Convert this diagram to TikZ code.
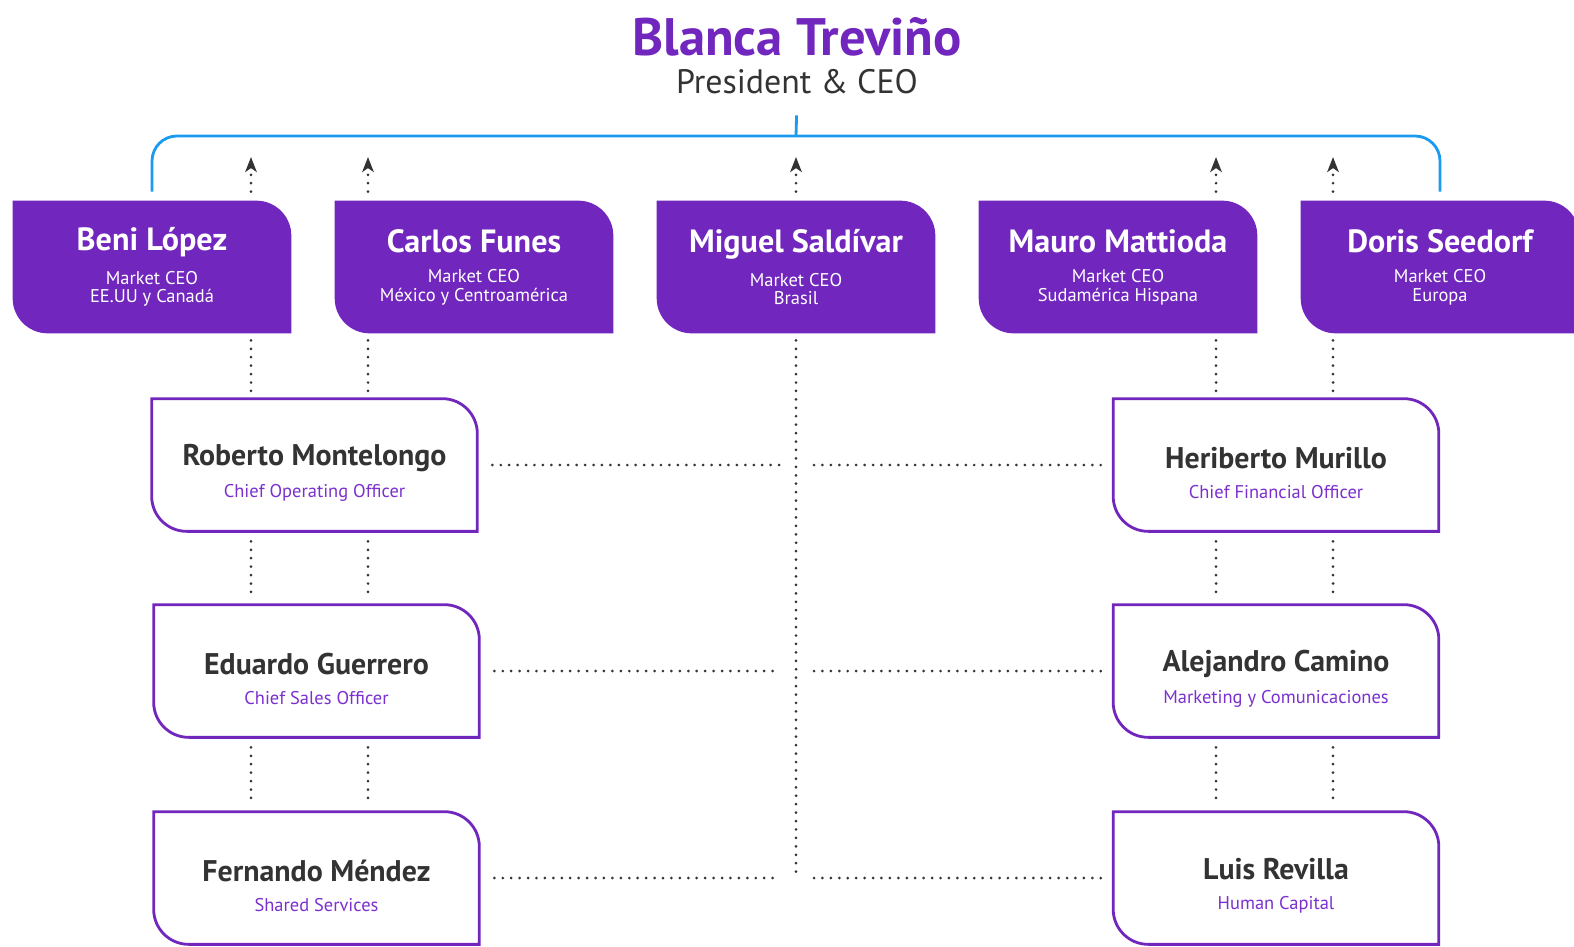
\documentclass[tikz,border=0pt]{standalone}
\usepackage{fontspec}
\setmainfont{PT Sans}
\usepackage{xcolor}
\usetikzlibrary{arrows.meta, positioning, backgrounds}
\definecolor{brandpurple}{HTML}{7126BD}
\definecolor{rolepurple}{HTML}{7B30D0}
\definecolor{railblue}{HTML}{1A9BF0}
\definecolor{inkgray}{HTML}{333333}
\tikzset{
    market/.style={rectangle, minimum width=5.56cm, minimum height=2.64cm, inner sep=0pt, align=center, text=white, font=\fontsize{10.5}{10.4}\selectfont},
    staff/.style={rectangle, minimum width=6.5cm, minimum height=2.64cm, inner sep=0pt, align=center, text=rolepurple, font=\fontsize{10.5}{11}\selectfont},
    dots/.style={draw=inkgray, line width=1.7pt, line cap=round, dash pattern=on 0pt off 4.8pt},
    uparrow/.style={dots, -{Stealth[length=8.5pt, width=6.5pt, inset=2.2pt]}},
    rail/.style={draw=railblue, line width=1.6pt, rounded corners=0.5cm}
}
\newcommand{\mname}[1]{{\fontsize{18.3}{22}\selectfont\bfseries #1}\\[7pt]}
\newcommand{\sname}[1]{{\rule{0pt}{21pt}\fontsize{17}{20}\selectfont\bfseries\color{inkgray}#1}\\[6pt]}
\newcommand{\tabpath}[2]{\path[#2] (#1.north west) -- ([xshift=-0.7cm]#1.north east)
    arc[start angle=90, end angle=0, radius=0.7cm] -- (#1.south east)
    -- ([xshift=0.7cm]#1.south west) arc[start angle=270, end angle=180, radius=0.7cm] -- cycle;}

\begin{document}
\begin{tikzpicture}[x=0.02cm, y=0.02cm]
    \useasboundingbox (0,0) rectangle (1574,-946);
    % president
    \node (ceoname) at (797,-37) [text=brandpurple, font=\fontsize{30}{34}\selectfont\bfseries] {Blanca Treviño};
    \node (ceorole) at (797,-82) [text=inkgray, font=\fontsize{19.3}{22}\selectfont] {President \& CEO};
    \coordinate (rail) at (796,-136);
    \coordinate (colA) at (251,0);
    \coordinate (colB) at (368,0);
    \coordinate (colC) at (1216,0);
    \coordinate (colD) at (1333,0);

    % market CEOs
    \node (beni) at (152,-267) [market] {\mname{Beni López}Market CEO\\EE.UU y Canadá};
    \node (carlos) at (474,-267) [market] {\mname{Carlos Funes}Market CEO\\México y Centroamérica};
    \node (miguel) at (796,-267) [market] {\mname{Miguel Saldívar}Market CEO\\Brasil};
    \node (mauro) at (1118,-267) [market] {\mname{Mauro Mattioda}Market CEO\\Sudamérica Hispana};
    \node (doris) at (1440,-267) [market] {\mname{Doris Seedorf}Market CEO\\Europa};

    % corporate staff
    \node (roberto) at (314.5,-465) [staff] {\sname{Roberto Montelongo}Chief Operating Officer};
    \node (eduardo) at (316.5,-671) [staff] {\sname{Eduardo Guerrero}Chief Sales Officer};
    \node (fernando) at (316.5,-878) [staff] {\sname{Fernando Méndez}Shared Services};
    \node (heriberto) at (1276,-465) [staff] {\sname{Heriberto Murillo}Chief Financial Officer};
    \node (alejandro) at (1276,-671) [staff] {\sname{Alejandro Camino}Marketing y Comunicaciones};
    \node (luis) at (1276,-878) [staff] {\sname{Luis Revilla}Human Capital};

    \begin{scope}[on background layer]
        \foreach \n in {beni,carlos,miguel,mauro,doris}
            {\tabpath{\n}{fill=brandpurple}}
        \foreach \n in {roberto,eduardo,fernando,heriberto,alejandro,luis}
            {\tabpath{\n}{draw=brandpurple, line width=1.6pt, fill=white}}
    \end{scope}

    % reporting line to the president
    \draw [railblue, line width=1.6pt, shorten <=0.3cm] (ceorole.south) -- (rail);
    \draw [rail] ([yshift=0.18cm]beni.north) |- (rail) -| ([yshift=0.18cm]doris.north);

    % dotted links upward
    \draw [uparrow, shorten <=0.18cm, shorten >=0.42cm] (beni.north -| colA) -- (colA |- rail);
    \draw [uparrow, shorten <=0.18cm, shorten >=0.42cm] (carlos.north -| colB) -- (colB |- rail);
    \draw [uparrow, shorten <=0.18cm, shorten >=0.42cm] (miguel.north) -- (rail);
    \draw [uparrow, shorten <=0.18cm, shorten >=0.42cm] (mauro.north -| colC) -- (colC |- rail);
    \draw [uparrow, shorten <=0.18cm, shorten >=0.42cm] (doris.north -| colD) -- (colD |- rail);

    % dotted links between rows
    \draw [dots, shorten <=0.14cm, shorten >=0.14cm] (beni.south -| colA) -- (roberto.north -| colA);
    \draw [dots, shorten <=0.14cm, shorten >=0.14cm] (carlos.south -| colB) -- (roberto.north -| colB);
    \draw [dots, shorten <=0.2cm, shorten >=0.2cm] (roberto.south -| colA) -- (eduardo.north -| colA);
    \draw [dots, shorten <=0.2cm, shorten >=0.2cm] (roberto.south -| colB) -- (eduardo.north -| colB);
    \draw [dots, shorten <=0.2cm, shorten >=0.2cm] (eduardo.south -| colA) -- (fernando.north -| colA);
    \draw [dots, shorten <=0.2cm, shorten >=0.2cm] (eduardo.south -| colB) -- (fernando.north -| colB);
    \draw [dots, shorten <=0.14cm, shorten >=0.14cm] (mauro.south -| colC) -- (heriberto.north -| colC);
    \draw [dots, shorten <=0.14cm, shorten >=0.14cm] (doris.south -| colD) -- (heriberto.north -| colD);
    \draw [dots, shorten <=0.2cm, shorten >=0.2cm] (heriberto.south -| colC) -- (alejandro.north -| colC);
    \draw [dots, shorten <=0.2cm, shorten >=0.2cm] (heriberto.south -| colD) -- (alejandro.north -| colD);
    \draw [dots, shorten <=0.2cm, shorten >=0.2cm] (alejandro.south -| colC) -- (luis.north -| colC);
    \draw [dots, shorten <=0.2cm, shorten >=0.2cm] (alejandro.south -| colD) -- (luis.north -| colD);
    \draw [dots, shorten <=0.14cm] (miguel.south) -- (miguel.south |- fernando.center);

    % dotted links across
    \draw [dots, shorten <=0.3cm, shorten >=0.32cm] (roberto.east) -- (roberto -| miguel);
    \draw [dots, shorten <=0.36cm, shorten >=0.24cm] (roberto -| miguel) -- (heriberto.west);
    \draw [dots, shorten <=0.3cm, shorten >=0.32cm] (eduardo.east) -- (eduardo -| miguel);
    \draw [dots, shorten <=0.36cm, shorten >=0.24cm] (eduardo -| miguel) -- (alejandro.west);
    \draw [dots, shorten <=0.3cm, shorten >=0.32cm] (fernando.east) -- (fernando -| miguel);
    \draw [dots, shorten <=0.36cm, shorten >=0.24cm] (fernando -| miguel) -- (luis.west);
\end{tikzpicture}
\end{document}
